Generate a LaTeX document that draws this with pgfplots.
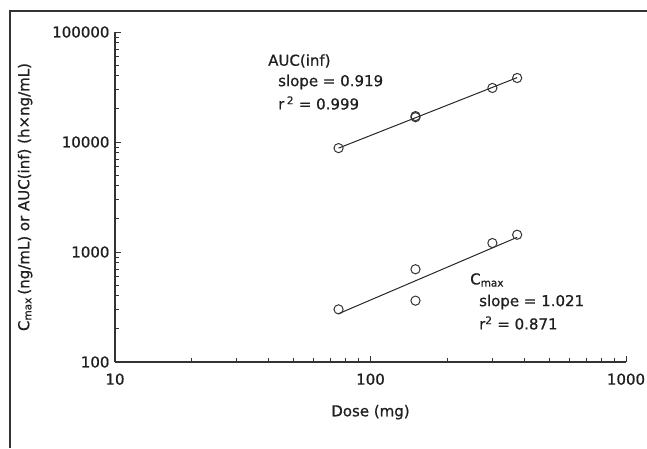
\documentclass[border=0pt]{standalone}
\usepackage{fontspec}
\setmainfont[FakeBold=0.7]{DejaVu Sans}
\usepackage{pgfplots}
\pgfplotsset{compat=1.18}

\begin{document}
\begin{tikzpicture}[font=\fontsize{15}{17}\selectfont, text=black!88]
\path[use as bounding box] (-115pt,-86pt) rectangle (532pt,362pt);
\draw[line width=1.6pt, black!80] (-105pt,-86pt) -- (-105pt,351pt) -- (532pt,351pt);
\begin{axis}[
  scale only axis,
  width=511pt, height=330pt,
  xmode=log, ymode=log,
  xmin=10, xmax=1000, ymin=100, ymax=100000,
  axis lines*=left,
  tick align=inside,
  major tick length=6pt, minor tick length=4pt,
  every tick/.style={black!80, line width=0.9pt},
  axis line style={black!80, line width=1.1pt},
  log ticks with fixed point,
  /pgf/number format/1000 sep={},
  /pgf/number format/assume math mode=true,
  xticklabel style={yshift=-8pt},
  yticklabel style={xshift=-2pt},
  xlabel={Dose (mg)},
  ylabel={C\textsubscript{max}\,(ng/mL) or AUC(inf) (h×ng/mL)},
  xlabel style={at={(axis description cs:0.5,-0.152)}, anchor=center},
  ylabel style={at={(axis description cs:-0.176,0.5)}, anchor=center},
  clip=false,
]
% AUC(inf)
\addplot[only marks, mark=o, mark size=4.6pt, black!80, line width=1pt] coordinates {
(75,8800) (150,16800) (150,17200) (300,31000) (375,38200)
};
\addplot[black!85, line width=1pt] coordinates {(75,8800) (375,38500)};
% Cmax
\addplot[only marks, mark=o, mark size=4.6pt, black!80, line width=1pt] coordinates {
(75,301) (150,697) (150,361) (300,1206) (375,1435)
};
\addplot[black!85, line width=1pt] coordinates {(75,275) (375,1360)};
\end{axis}
\begin{scope}[every node/.style={anchor=west, inner sep=0pt}]
\node at (153pt,301pt) {AUC(inf)};
\node at (163pt,280pt) {slope = 0.919};
\node at (163pt,259pt) {r\,\textsuperscript{2} = 0.999};
\node at (355pt,82pt) {C\textsubscript{max}};
\node at (364pt,60pt) {slope = 1.021};
\node at (364pt,39pt) {r\textsuperscript{2} = 0.871};
\end{scope}
\end{tikzpicture}
\end{document}
